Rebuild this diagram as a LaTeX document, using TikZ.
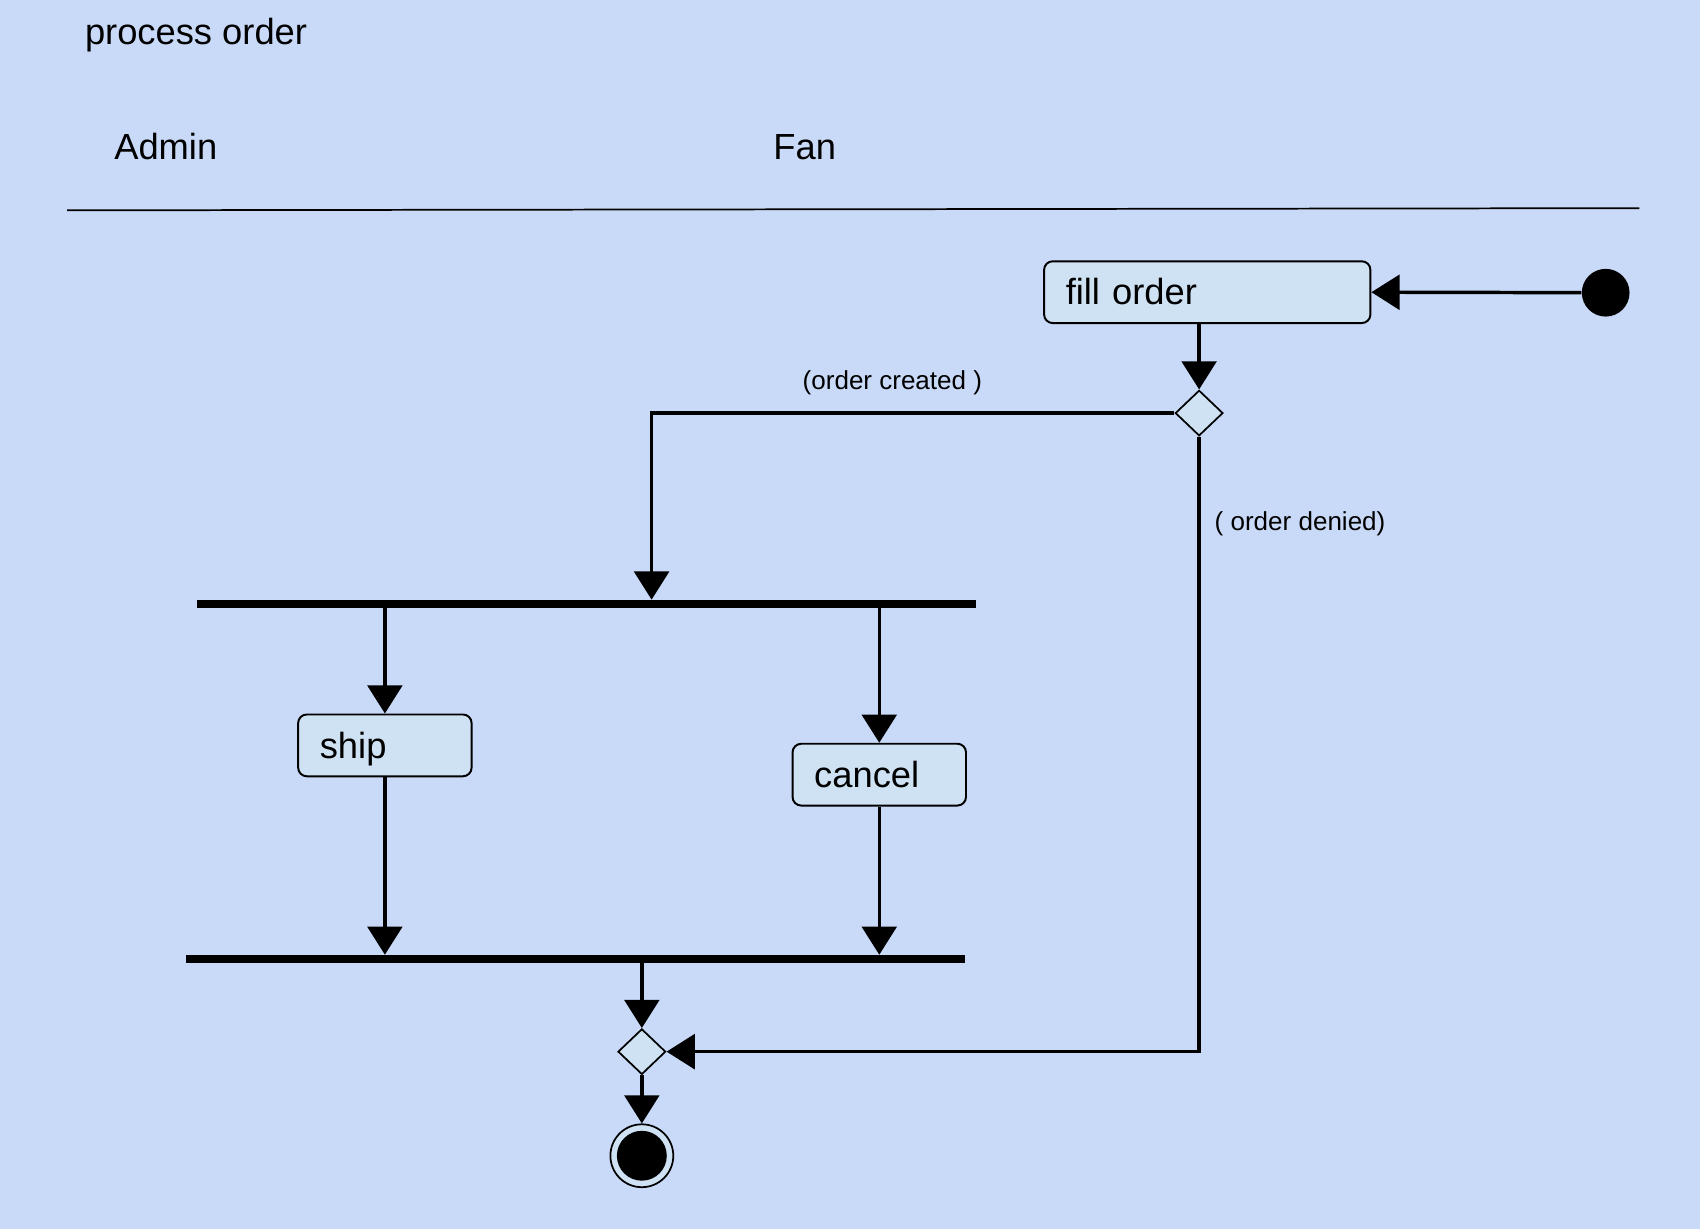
\documentclass[tikz,border=0pt]{standalone}
\usepackage{fontspec}
\setmainfont{Liberation Sans}
\usetikzlibrary{shapes.geometric,arrows.meta}
\definecolor{bgblue}{HTML}{C9DAF8}
\definecolor{boxblue}{HTML}{CFE2F3}
\begin{document}
\begin{tikzpicture}[x=0.5pt,y=-0.5pt,
  bigtext/.style={font=\fontsize{16.75pt}{20pt}\selectfont,inner sep=0pt},
  smalltext/.style={font=\fontsize{12pt}{14pt}\selectfont,inner sep=0pt},
  actbox/.style={draw=black,line width=0.9pt,fill=boxblue,rounded corners=4pt,
    minimum height=28.5pt,inner xsep=10pt,align=left,text height=12.2pt,text depth=0.5pt,
    font=\fontsize{16.75pt}{20pt}\selectfont},
  decnode/.style={diamond,draw=black,line width=0.8pt,fill=boxblue,inner sep=0pt,
    minimum width=22pt,minimum height=21pt},
  barnode/.style={rectangle,fill=black,inner sep=0pt,minimum height=3.5pt},
  conn/.style={line width=1.6pt,-{Triangle[length=13pt,width=16pt]}}
]
\fill[bgblue] (0,0) rectangle (1568,1134);
\useasboundingbox (0,0) rectangle (1568,1134);

\node[bigtext,anchor=base west] (title) at (78,41) {process order};
\node[bigtext,anchor=base west] (admin) at (105,147) {Admin};
\node[bigtext,anchor=base west] (fan) at (713,147) {Fan};
\draw[line width=0.8pt] (62,194) -- (1512,192);

\node[actbox,text width=130.5pt] (fill) at (1113.5,269.5) {fill order};
\node[circle,fill=black,inner sep=0pt,minimum size=22pt] (init) at (1481,270) {};
\node[decnode] (dec1) at (1106,381) {};

\node[barnode,minimum width=359pt] (fork) at (541,557) {};
\node[actbox,text width=60pt] (ship) at (355,687.5) {ship};
\node[actbox,text width=60pt] (cancel) at (811,714.5) {cancel};
\node[barnode,minimum width=359pt] (join) at (531,884.5) {};
\node[decnode] (merge) at (592,970) {};
\node[circle,draw=black,line width=0.8pt,fill=boxblue,inner sep=0pt,minimum size=29pt] (final) at (592,1066) {};
\node[circle,fill=black,inner sep=0pt,minimum size=23pt] (finalin) at (592,1066) {};

\node[smalltext,anchor=base west] (lcreated) at (740,359) {(order created )};
\node[smalltext,anchor=base west] (ldenied) at (1120,489) {( order denied)};

\draw[conn] (init) -- (fill.east);
\draw[conn] (fill.south -| dec1) -- (dec1.north);
\draw[conn] (dec1.west) -| ([xshift=30pt]fork.north);
\draw[conn] (ship.north |- fork.south) -- (ship.north);
\draw[conn] (cancel.north |- fork.south) -- (cancel.north);
\draw[conn] (ship.south) -- (ship.south |- join.north);
\draw[conn] (cancel.south) -- (cancel.south |- join.north);
\draw[conn] (join.south -| merge) -- (merge.north);
\draw[conn] (dec1.south) |- (merge.east);
\draw[conn] (merge.south) -- (final.north);
\end{tikzpicture}
\end{document}
